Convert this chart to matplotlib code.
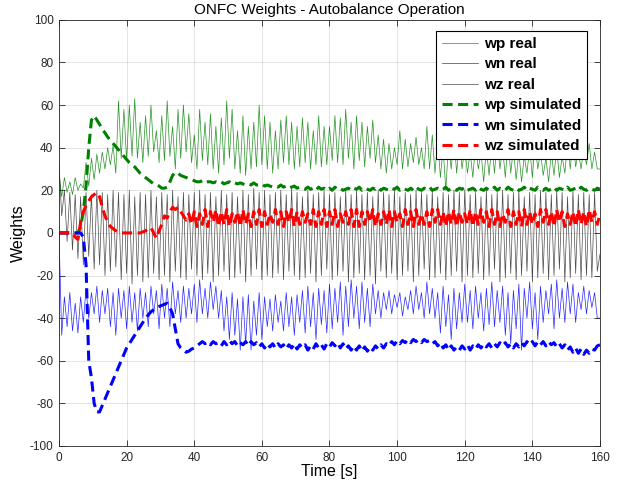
import numpy as np
import matplotlib
matplotlib.use('Agg')
from matplotlib import pyplot as plt

plt.rcParams['font.family'] = ['Liberation Sans', 'DejaVu Sans']
plt.rcParams['axes.unicode_minus'] = False

# measured signals, alternating peaks / troughs, one value every 0.8 s
wp_real = [28, 17, 26, 19, 24, 18, 26, 20, 23, 21,
           33, 22, 35, 25, 37, 28, 38, 30, 40, 32,
           41, 28, 62, 35, 58, 34, 60, 36, 63, 35,
           52, 33, 55, 36, 60, 38, 48, 33, 55, 34,
           62, 36, 50, 30, 58, 35, 60, 38, 56, 33,
           46, 30, 58, 34, 52, 32, 56, 30, 50, 28,
           54, 32, 62, 35, 58, 30, 48, 28, 55, 27,
           50, 30, 52, 31, 60, 32, 55, 30, 52, 28,
           48, 30, 53, 33, 55, 32, 52, 30, 50, 31,
           54, 33, 52, 30, 48, 32, 55, 31, 50, 32,
           50, 34, 55, 33, 54, 32, 58, 35, 52, 30,
           55, 34, 52, 31, 50, 35, 53, 33, 46, 30,
           44, 28, 42, 30, 40, 32, 48, 30, 44, 31,
           42, 33, 45, 32, 40, 30, 50, 30, 46, 28,
           44, 26, 40, 20, 42, 30, 46, 28, 44, 30,
           40, 28, 38, 26, 42, 30, 38, 24, 40, 27,
           42, 28, 45, 30, 40, 26, 44, 28, 40, 25,
           38, 24, 36, 28, 40, 26, 42, 30, 38, 27,
           35, 24, 38, 27, 40, 26, 36, 28, 42, 30,
           44, 31, 38, 30, 40, 32, 42, 30, 38, 30,
           30]

wn_real = [0, -48, -30, -44, -28, -46, -33, -47, -30, -42,
           -26, -40, -28, -38, -25, -42, -27, -38, -26, -44,
           -28, -48, -26, -40, -27, -45, -25, -42, -28, -46,
           -26, -40, -28, -44, -25, -38, -27, -45, -24, -40,
           -26, -44, -23, -38, -27, -42, -25, -40, -26, -38,
           -24, -42, -22, -38, -26, -40, -23, -36, -25, -40,
           -27, -46, -30, -50, -28, -48, -31, -55, -30, -52,
           -29, -55, -32, -48, -28, -50, -30, -44, -31, -46,
           -29, -42, -32, -46, -28, -44, -30, -48, -29, -42,
           -27, -47, -25, -44, -28, -50, -26, -43, -27, -47,
           -24, -45, -26, -42, -23, -48, -25, -44, -22, -40,
           -25, -45, -23, -42, -26, -44, -24, -38, -27, -40,
           -28, -36, -27, -38, -29, -35, -28, -39, -30, -36,
           -27, -38, -25, -36, -28, -40, -23, -38, -26, -40,
           -28, -47, -25, -44, -29, -50, -26, -45, -28, -42,
           -24, -42, -27, -45, -25, -40, -28, -46, -26, -43,
           -23, -44, -27, -42, -25, -48, -28, -52, -27, -45,
           -24, -55, -26, -40, -23, -45, -28, -50, -25, -42,
           -27, -38, -24, -45, -22, -40, -26, -42, -23, -38,
           -24, -42, -28, -36, -25, -38, -27, -35, -28, -40,
           -40]

wz_real = [33, 8, 20, -4, 19, -8, 18, -12, 17, -15,
           19, -11, 18, -17, 20, -15, 19, -20, 18, -18,
           20, -16, 19, -22, 18, -19, 20, -24, 17, -20,
           19, -23, 18, -21, 20, -19, 17, -22, 19, -20,
           18, -23, 20, -18, 17, -21, 19, -22, 18, -17,
           19, -20, 20, -22, 18, -19, 19, -23, 17, -20,
           20, -18, 18, -22, 19, -21, 17, -19, 20, -23,
           18, -20, 21, -17, 19, -22, 20, -20, 18, -21,
           19, -19, 20, -22, 18, -18, 21, -20, 19, -22,
           17, -21, 20, -19, 18, -23, 19, -20, 20, -17,
           18, -22, 19, -20, 17, -18, 20, -23, 18, -21,
           20, -19, 18, -22, 19, -20, 17, -24, 20, -18,
           19, -21, 18, -19, 20, -22, 17, -20, 19, -18,
           18, -23, 20, -20, 19, -17, 18, -22, 20, -21,
           17, -19, 19, -22, 18, -20, 20, -18, 19, -23,
           20, -20, 18, -21, 19, -19, 17, -22, 20, -20,
           18, -17, 19, -23, 20, -21, 18, -19, 19, -22,
           20, -20, 17, -18, 19, -23, 18, -21, 20, -19,
           19, -22, 18, -20, 20, -17, 19, -23, 17, -21,
           20, -19, 18, -22, 19, -20, 18, -21, 19, -18,
           -10]

# simulated weights, one value every 0.8 s
wp_sim = [0, 0, 0, 0, 0, 0, 0, 0, 3, 10,
          22, 40, 53, 55, 53, 51, 48.5, 47, 45, 43.5,
          42, 40.5, 39, 37.5, 36, 34.5, 33, 32, 31, 29.5,
          28, 27, 26, 25, 24, 23, 22.5, 22, 21, 21,
          21.5, 24, 27, 28.5, 28, 27, 26.5, 26, 25.5, 25,
          24.5, 24, 24, 24.5, 23.5, 24, 24, 23.5, 24, 23.5,
          24, 23, 23.5, 24, 23, 23.5, 23, 23.5, 23, 22.5,
          23, 22.5, 23.5, 22.5, 22.5, 23, 22, 22.5, 22, 21.5,
          22, 21.5, 22.5, 21.5, 22, 21, 21.5, 22, 21, 21.5,
          21, 20.5, 21.5, 20.5, 21, 20, 21.5, 20.5, 21, 20,
          21, 20, 21.5, 20.5, 21, 20, 20.5, 21, 20, 21,
          20.5, 21.5, 20, 21, 20.5, 20, 21, 20.5, 21.5, 20,
          21, 20.5, 20, 21, 20.5, 21.5, 20, 21, 20.5, 20,
          21, 20, 21.5, 20.5, 20, 21, 20.5, 21.5, 20, 20.5,
          21, 20, 20.5, 21.5, 20, 21, 20.5, 20, 21, 20.5,
          21.5, 20, 20.5, 21, 20, 21.5, 20.5, 20, 21, 20,
          20.5, 21.5, 20, 21, 20.5, 20, 21.5, 20.5, 20, 21,
          20, 20.5, 21.5, 20, 21, 20.5, 20, 21.5, 20.5, 20,
          21, 20, 20.5, 21.5, 20, 21, 20.5, 20, 21.5, 20,
          20.5, 21, 20, 21.5, 20.5, 20, 21, 20.5, 20, 21,
          20.5]

wn_sim = [0, 0, 0, 0, 0, 0, 0, 0, 0, -2,
          -15, -60, -68, -80, -84, -84, -81, -78, -75, -72,
          -69, -66, -63, -60, -57, -54, -52, -50, -48, -46,
          -44, -42, -40, -38.5, -37, -36, -35, -34.5, -34, -33.5,
          -33, -35, -38, -45, -52, -54, -55, -56, -55.5, -54.5,
          -54, -53, -52, -51, -52, -51, -52.5, -51, -52, -51.5,
          -53, -51, -52.5, -50.5, -52, -51, -53, -51.5, -52.5, -51,
          -53, -51, -52.5, -51.5, -53.5, -52, -54, -52, -53.5, -52,
          -54, -52, -53.5, -52.5, -54.5, -52.5, -54, -52, -54.5, -52.5,
          -54, -52.5, -55, -53, -54.5, -52, -54, -52.5, -54.5, -52,
          -53.5, -51.5, -53, -51.5, -54, -52, -54.5, -53, -55, -53,
          -55, -53, -55.5, -53.5, -55.5, -53.5, -55, -53, -54.5, -52.5,
          -54, -52, -53, -51, -52.5, -50.5, -52, -50.5, -51.5, -50,
          -51.5, -50, -51, -50, -51.5, -50, -51, -50.5, -52, -51,
          -53, -51.5, -54, -52.5, -55, -53, -55, -53.5, -55, -53,
          -54.5, -52.5, -55, -53, -54.5, -52.5, -54, -52, -53.5, -52,
          -54, -52, -53.5, -51.5, -53, -51.5, -53.5, -52, -54, -52,
          -53.5, -51.5, -53, -51, -52.5, -51, -53, -51, -52.5, -51,
          -53, -51, -52.5, -51.5, -53.5, -52, -54, -52.5, -55, -53.5,
          -56, -54, -56.5, -54.5, -57, -55, -56.5, -54.5, -55, -53,
          -52.5]

wz_sim = [0, 0, 0, 0, 0, 0, -2, -3, 5, 10,
          13, 15, 17, 18, 19, 17, 12, 8, 5, 3,
          2, 1, 0.5, 0, 0, 0, 0, 0, 0, 0,
          0, 0.5, 1, 2, 2.5, 0, -2.5, 1, 4, 8,
          7, 10, 12, 11, 12, 10, 8, 6, 9, 4,
          10, 3, 9, 4, 11, 3, 10, 5, 11, 3,
          10, 4, 11, 3, 9, 5, 10, 3, 11, 4,
          9, 3, 10, 4, 11, 3, 10, 4, 9, 5,
          11, 4, 10, 3, 10, 5, 11, 3, 10, 4,
          10, 5, 9, 4, 11, 3, 10, 4, 11, 3,
          10, 4, 11, 3, 9, 5, 10, 4, 11, 3,
          11, 3, 10, 4, 10, 5, 11, 3, 9, 4,
          10, 4, 11, 3, 10, 5, 9, 3, 11, 4,
          10, 3, 11, 4, 9, 4, 10, 3, 11, 5,
          11, 4, 10, 3, 10, 4, 11, 3, 10, 5,
          9, 4, 11, 3, 10, 4, 11, 5, 10, 3,
          11, 4, 10, 3, 9, 5, 11, 3, 10, 4,
          10, 3, 11, 4, 10, 4, 9, 3, 11, 5,
          11, 4, 10, 3, 11, 5, 10, 3, 9, 4,
          10, 3, 11, 4, 10, 3, 11, 5, 10, 4,
          9]

t_end = 160

fig = plt.figure(figsize=(6.19, 4.87), dpi=100)
ax = fig.add_axes([0.0953, 0.0842, 0.874, 0.875])

dk = '#262626'
green = '#008000'

def tgrid(v):
    return np.linspace(0, t_end, len(v))

ax.plot(tgrid(wp_real), wp_real, color=green, lw=0.5, alpha=0.85, label='wp real')
ax.plot(tgrid(wn_real), wn_real, color='#0000ff', lw=0.5, alpha=0.85, label='wn real')
ax.plot(tgrid(wz_real), wz_real, color='#000000', lw=0.5, alpha=0.7, label='wz real')

dash = (3.3, 1.8)
ax.plot(tgrid(wp_sim), wp_sim, color=green, lw=2.2, ls=(0, dash), label='wp simulated')
ax.plot(tgrid(wn_sim), wn_sim, color='#0000ff', lw=2.2, ls=(0, dash), label='wn simulated')
ax.plot(tgrid(wz_sim), wz_sim, color='#ff0000', lw=2.2, ls=(0, dash), label='wz simulated')

ax.set_xlim(0, 160)
ax.set_ylim(-100, 100)
ax.set_xticks(np.arange(0, 161, 20))
ax.set_yticks(np.arange(-100, 101, 20))
ax.grid(True, color=dk, alpha=0.15, lw=0.6)
ax.tick_params(direction='in', top=True, right=True, length=4, width=0.6,
               labelsize=8.5, colors=dk, pad=4)
for s in ax.spines.values():
    s.set_color(dk)
    s.set_linewidth(0.6)

ax.set_title('ONFC Weights - Autobalance Operation', fontsize=11, pad=4)
ax.set_xlabel('Time [s]', fontsize=11.5, labelpad=0)
ax.set_ylabel('Weights', fontsize=11.5, labelpad=3)

leg = ax.legend(loc='upper right', bbox_to_anchor=(0.976, 0.974), borderaxespad=0,
                prop={'weight': 'bold', 'size': 11}, handlelength=2.3,
                handletextpad=0.4, labelspacing=0.42, fancybox=False,
                framealpha=1, edgecolor='#000000', borderpad=0.4)
leg.get_frame().set_linewidth(0.8)

fig.savefig('out.png', dpi=100)
